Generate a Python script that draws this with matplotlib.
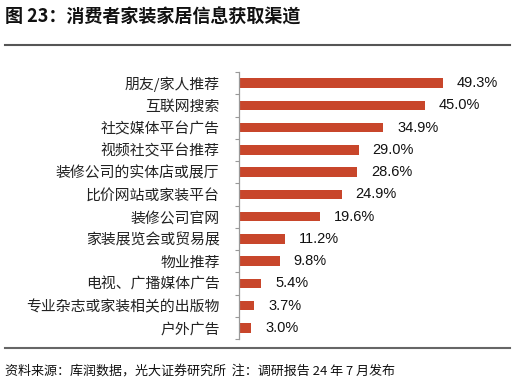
import matplotlib
matplotlib.use("Agg")
import matplotlib.pyplot as plt
from matplotlib.lines import Line2D

plt.rcParams['font.family'] = ['Noto Sans CJK SC', 'DejaVu Sans']

channels = ["朋友/家人推荐", "互联网搜索", "社交媒体平台广告", "视频社交平台推荐",
            "装修公司的实体店或展厅", "比价网站或家装平台", "装修公司官网",
            "家装展览会或贸易展", "物业推荐", "电视、广播媒体广告",
            "专业杂志或家装相关的出版物", "户外广告"]
shares = [49.3, 45.0, 34.9, 29.0, 28.6, 24.9, 19.6, 11.2, 9.8, 5.4, 3.7, 3.0]

W, H = 515, 381
fig = plt.figure(figsize=(W / 100, H / 100), dpi=100)

# axes box in pixels
x0, x1 = 239, 510
y_top, y_bot = 72, 339
ax = fig.add_axes([x0 / W, 1 - y_bot / H, (x1 - x0) / W, (y_bot - y_top) / H])

ypos = list(range(len(channels)))
ax.barh(ypos, shares, height=0.43, color="#C8462B", zorder=2)
ax.set_ylim(len(channels) - 0.5, -0.5)
ax.set_xlim(0, (x1 - x0) / 4.14)

for y, v in zip(ypos, shares):
    ax.text(v + 3.3, y, f"{v:.1f}%", va="center", ha="left", fontsize=10.5,
            family=["Liberation Sans", "DejaVu Sans"], color="#111111")

ax.set_yticks(ypos)
ax.set_yticklabels(channels, fontsize=10.7, color="#222222")
ax.tick_params(axis="y", which="major", length=0, pad=14)
ax.set_yticks([i - 0.5 for i in range(len(channels) + 1)], minor=True)
ax.tick_params(axis="y", which="minor", length=3, width=0.8, color="#999999", direction="out")
ax.set_xticks([])
for s in ["top", "right", "bottom"]:
    ax.spines[s].set_visible(False)
ax.spines["left"].set_color("#999999")
ax.spines["left"].set_linewidth(0.9)

# title, rules and source note
fig.text(5 / W, 1 - 17 / H, "图 23：消费者家装家居信息获取渠道", fontsize=13,
         fontweight="bold", va="center", ha="left", color="#111111")
fig.add_artist(Line2D([5 / W, 510 / W], [1 - 45 / H, 1 - 45 / H], color="#555555", lw=1.5))
fig.add_artist(Line2D([5 / W, 510 / W], [1 - 348 / H, 1 - 348 / H], color="#666666", lw=1.5))
fig.text(5 / W, 1 - 371 / H, "资料来源：库润数据，光大证券研究所  注：调研报告 24 年 7 月发布",
         fontsize=9.4, va="center", ha="left", color="#111111")

fig.savefig("out.png", dpi=100)
